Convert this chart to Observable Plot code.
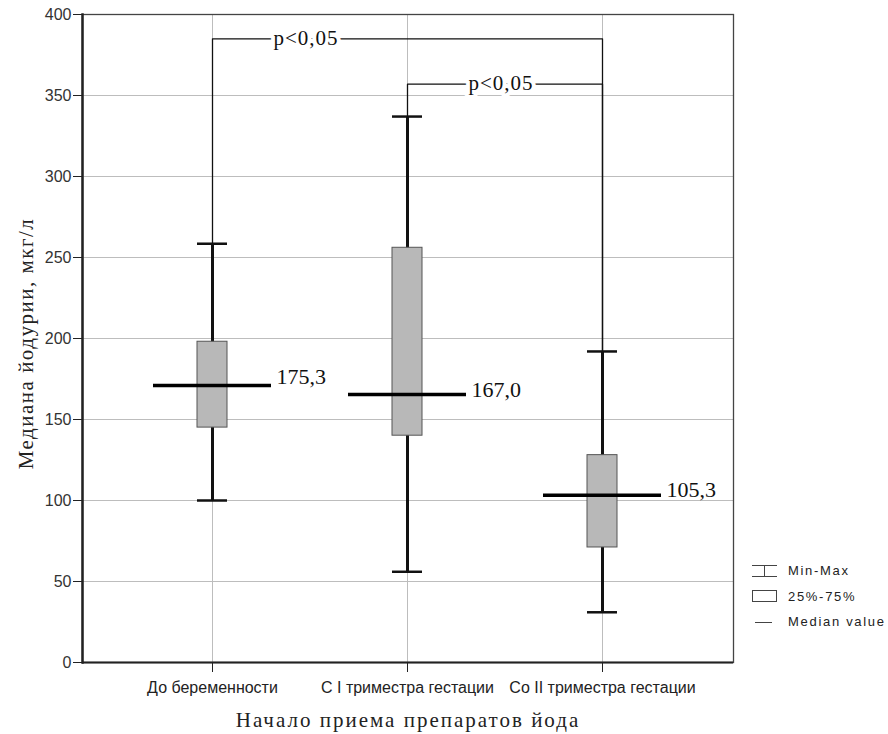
<!DOCTYPE html>
<html>
<head>
<meta charset="utf-8">
<script src="https://cdn.jsdelivr.net/npm/d3@7"></script>
<script src="https://cdn.jsdelivr.net/npm/@observablehq/plot@0.6"></script>
<style>
  html, body { margin: 0; padding: 0; background: #fff; }
  #wrap { position: relative; width: 888px; height: 734px; }
  #legend { position: absolute; left: 750px; top: 558px; font-family: "Liberation Sans", Arial, sans-serif; font-size: 13px; letter-spacing: 1.7px; color: #222; }
  #legend .row { display: flex; align-items: center; height: 25.5px; }
  #legend svg { width: 30px; height: 16px; margin-right: 8px; }
</style>
</head>
<body>
<div id="wrap"></div>
<script>
const categories = ["До беременности", "С I триместра гестации", "Со II триместра гестации"];
const minVals = [100, 56, 31];
const q1Vals = [145, 140, 71];
const medianVals = [171, 165.4, 103.3];
const q3Vals = [198, 256, 128];
const maxVals = [258.5, 337, 192];
const medianLabels = ["175,3", "167,0", "105,3"];
const medianLabelValues = [175.3, 167.0, 105.3];
const yTicks = [0, 50, 100, 150, 200, 250, 300, 350, 400];

const bracketFrom = [0, 1];
const bracketTo = [2, 2];
const bracketLevel = [385, 357];
const bracketText = ["p<0,05", "p<0,05"];

const xTitle = "Начало приема препаратов йода";
const yTitle = "Медиана йодурии, мкг/л";
const legendLabels = ["Min-Max", "25%-75%", "Median value"];

const groups = categories.map((c, i) => ({
  cat: c, min: minVals[i], q1: q1Vals[i], med: medianVals[i], q3: q3Vals[i], max: maxVals[i],
  lab: medianLabels[i], labV: medianLabelValues[i]
}));

const bracketPts = [];
bracketFrom.forEach((f, b) => {
  const t = bracketTo[b];
  bracketPts.push({b, x: categories[f], y: maxVals[f]});
  bracketPts.push({b, x: categories[f], y: bracketLevel[b]});
  bracketPts.push({b, x: categories[t], y: bracketLevel[b]});
  bracketPts.push({b, x: categories[t], y: maxVals[t]});
});
const bracketLabels = bracketFrom.map((f, b) => ({x: categories[f], y: bracketLevel[b], t: bracketText[b]}));

const sans = "'Liberation Sans', Arial, sans-serif";
const serif = "'Liberation Serif', 'Times New Roman', serif";

const chart = Plot.plot({
  width: 888,
  height: 734,
  marginLeft: 82,
  marginRight: 155,
  marginTop: 14,
  marginBottom: 72,
  style: {background: "#fff"},
  x: {type: "band", domain: categories, paddingInner: 0.846, paddingOuter: 0.592, label: null},
  y: {domain: [0, 400], label: null},
  marks: [
    Plot.gridY(yTicks, {stroke: "#bdbdbd", strokeOpacity: 1, strokeWidth: 1}),
    Plot.gridX(categories, {stroke: "#bdbdbd", strokeOpacity: 1, strokeWidth: 1}),
    Plot.frame({stroke: "#444", strokeWidth: 1.3}),
    Plot.axisY({ticks: yTicks, tickSize: 9, tickPadding: 2, tickFormat: d => String(d), fontFamily: sans, fontSize: 16, fill: "#333", stroke: "#222", label: null}),
    Plot.axisX({tickSize: 10, tickPadding: 9, fontFamily: sans, fontSize: 16, fill: "#222", stroke: "#222", label: null}),
    Plot.ruleY([0], {stroke: "#222", strokeWidth: 2}),
    Plot.frame({anchor: "left", stroke: "#222", strokeWidth: 2.5}),
    Plot.line(bracketPts, {x: "x", y: "y", z: "b", stroke: "#111", strokeWidth: 1.3, curve: "linear"}),
    Plot.text(bracketLabels, {x: "x", y: "y", text: "t", dx: 61, textAnchor: "start", fontFamily: serif, fontSize: 21, fill: "#111", stroke: "white", strokeWidth: 8, lineAnchor: "middle", dy: -1}),
    Plot.ruleX(groups, {x: "cat", y1: "min", y2: "max", stroke: "#111", strokeWidth: 3}),
    Plot.tickY(groups, {x: "cat", y: "min", stroke: "#111", strokeWidth: 2.5}),
    Plot.tickY(groups, {x: "cat", y: "max", stroke: "#111", strokeWidth: 2.5}),
    Plot.barY(groups, {x: "cat", y1: "q1", y2: "q3", fill: "#b8b8b8", stroke: "#555", strokeWidth: 1}),
    Plot.tickY(groups, {x: "cat", y: "med", stroke: "#000", strokeWidth: 3.5, insetLeft: -44, insetRight: -44}),
    Plot.text(groups, {x: "cat", y: "labV", text: "lab", dx: 64, dy: -2, textAnchor: "start", fontFamily: serif, fontSize: 22, fill: "#111"}),
    Plot.text([xTitle], {frameAnchor: "bottom", textAnchor: "middle", dy: 64, fontFamily: serif, fontSize: 21, fill: "#222"}),
    Plot.text([yTitle], {frameAnchor: "left", textAnchor: "middle", lineAnchor: "bottom", dx: -50, dy: 5, rotate: -90, fontFamily: serif, fontSize: 21, fill: "#222"})
  ]
});

// letter spacing for titles
d3.select(chart).selectAll("text").filter(function() { return this.textContent === xTitle; }).style("letter-spacing", "2px");
d3.select(chart).selectAll("text").filter(function() { return this.textContent === yTitle; }).style("letter-spacing", "1.5px");
d3.select(chart).selectAll("text").filter(function() { return this.textContent === "p<0,05"; }).style("letter-spacing", "1px");

document.getElementById("wrap").appendChild(chart);

const legend = document.createElement("div");
legend.id = "legend";
const icons = [
  '<svg viewBox="0 0 30 16"><path d="M2 2.5H27M14.5 2.5V13.5M2 13.5H27" stroke="#444" stroke-width="1" fill="none"/></svg>',
  '<svg viewBox="0 0 30 16"><rect x="2.5" y="2.5" width="24" height="11" fill="#fff" stroke="#444" stroke-width="1"/></svg>',
  '<svg viewBox="0 0 30 16"><path d="M5 8.5H22" stroke="#444" stroke-width="1"/></svg>'
];
legendLabels.forEach((l, i) => {
  const row = document.createElement("div");
  row.className = "row";
  row.innerHTML = icons[i] + "<span>" + l + "</span>";
  legend.appendChild(row);
});
document.getElementById("wrap").appendChild(legend);
</script>
</body>
</html>
